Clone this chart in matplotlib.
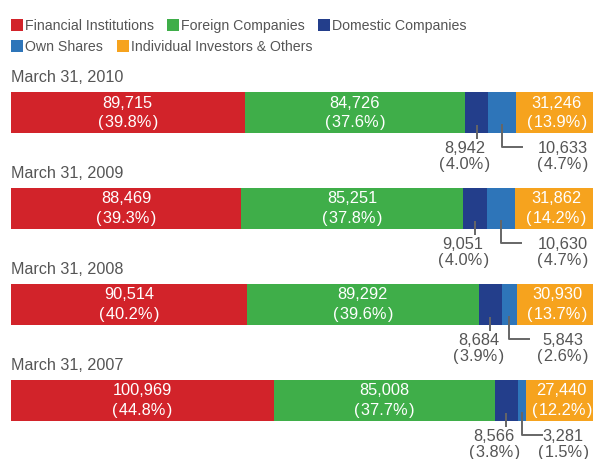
import matplotlib
matplotlib.use('Agg')
from matplotlib import pyplot
from matplotlib.patches import Rectangle

# shares held (thousands), by type of shareholder
dates = ['March 31, 2010', 'March 31, 2009', 'March 31, 2008', 'March 31, 2007']
categories = ['Financial Institutions', 'Foreign Companies', 'Domestic Companies',
              'Own Shares', 'Individual Investors & Others']
financial = [89715, 88469, 90514, 100969]
foreign = [84726, 85251, 89292, 85008]
domestic = [8942, 9051, 8684, 8566]
own = [10633, 10630, 5843, 3281]
individual = [31246, 31862, 30930, 27440]
financial_pct = ['39.8', '39.3', '40.2', '44.8']
foreign_pct = ['37.6', '37.8', '39.6', '37.7']
domestic_pct = ['4.0', '4.0', '3.9', '3.8']
own_pct = ['4.7', '4.7', '2.6', '1.5']
individual_pct = ['13.9', '14.2', '13.7', '12.2']

colors = ['#D2232A', '#3FAE49', '#233E8B', '#2E75B9', '#F6A31E']
grey = '#555555'
font = ['Liberation Sans', 'DejaVu Sans']
lab_size = 11.8


def pct_label(p):
    return '(\u200a' + p + '%\u200a)'


W, H = 593, 460
fig = pyplot.figure(figsize=(W / 100, H / 100), dpi=100)

# overlay in pixel units for legend and date headings
over = fig.add_axes([0, 0, 1, 1])
over.set_xlim(0, W)
over.set_ylim(H, 0)
over.axis('off')

legend_pos = [(11, 26), (167, 26), (318, 26), (11, 47), (117, 47)]
for (lx, ly), c, name in zip(legend_pos, colors, categories):
    over.add_patch(Rectangle((lx, ly - 6.5), 12, 12.5, color=c, lw=0))
    over.text(lx + 14, ly, name, fontsize=10.2, color=grey, family=font,
              va='center', ha='left')

bar_w = 586.5
total = financial[0] + foreign[0] + domestic[0] + own[0] + individual[0]
px = total / bar_w  # data units per pixel

ax = fig.add_axes([11 / W, 0, bar_w / W, 1])
ax.set_xlim(0, total)
ax.set_ylim(H, 0)
ax.axis('off')

tops = [93, 189, 285, 381]
bar_h = 41
series = [financial, foreign, domestic, own, individual]
pcts = [financial_pct, foreign_pct, domestic_pct, own_pct, individual_pct]

for i, top in enumerate(tops):
    over.text(11, top - 15, dates[i], fontsize=11.6, color=grey, family=font,
              va='center', ha='left')
    left = 0
    mids = []
    for k, vals in enumerate(series):
        v = vals[i]
        ax.barh(top + bar_h / 2, v, left=left, height=bar_h, color=colors[k], lw=0)
        mids.append(left + v / 2)
        if k in (0, 1, 4):
            ax.text(left + v / 2, top + 10, f'{v:,}', color='white', fontsize=lab_size,
                    family=font, ha='center', va='center')
            ax.text(left + v / 2, top + 30, pct_label(pcts[k][i]), color='white',
                    fontsize=lab_size, family=font, ha='center', va='center')
        left += v
    bottom = top + bar_h
    # domestic companies: short leader straight down
    xd = mids[2]
    ax.plot([xd, xd], [bottom - 8, bottom + 6], color='#666666', lw=1.4,
            solid_capstyle='butt', clip_on=False)
    ax.text(xd - 12 * px, bottom + 15, f'{domestic[i]:,}', color=grey, fontsize=lab_size,
            family=font, ha='center', va='center')
    ax.text(xd - 12 * px, bottom + 31, pct_label(domestic_pct[i]), color=grey,
            fontsize=lab_size, family=font, ha='center', va='center')
    # own shares: elbow leader to the right
    xo = mids[3]
    ax.plot([xo, xo, xo + 20 * px], [bottom - 8, bottom + 14, bottom + 14],
            color='#666666', lw=1.4, clip_on=False)
    xr = (563 - 11) * px
    ax.text(xr, bottom + 15, f'{own[i]:,}', color=grey, fontsize=lab_size,
            family=font, ha='center', va='center')
    ax.text(xr, bottom + 31, pct_label(own_pct[i]), color=grey, fontsize=lab_size,
            family=font, ha='center', va='center')

pyplot.savefig('out.png', dpi=100)
